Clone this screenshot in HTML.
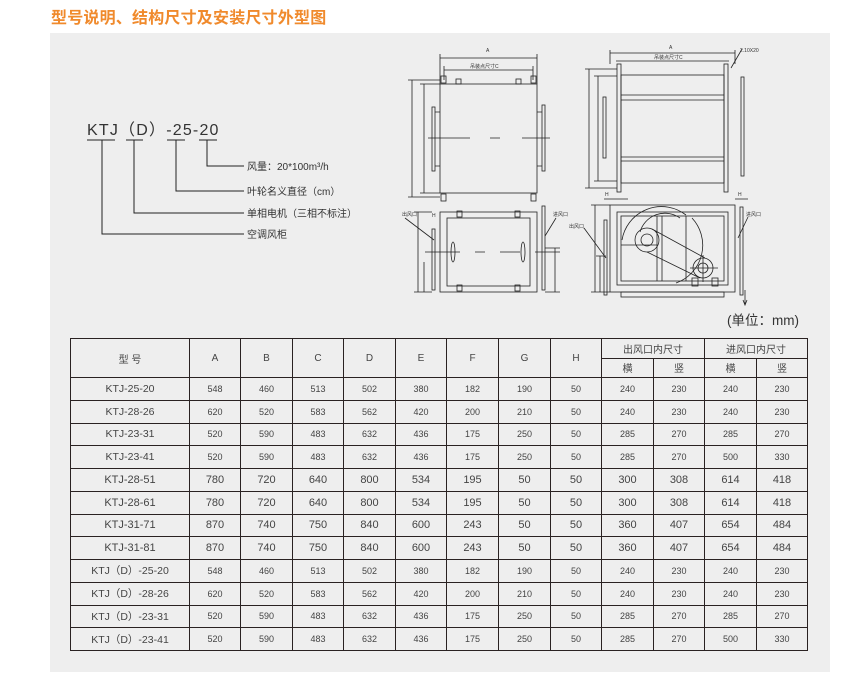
<!DOCTYPE html>
<html><head><meta charset="utf-8">
<style>
body{margin:0;width:850px;height:683px;background:#fff;position:relative;overflow:hidden;font-family:"Liberation Sans","Noto Sans CJK SC",sans-serif;color:#333}
.title{position:absolute;left:51px;top:4px;font-size:16px;font-weight:bold;color:#f08a2c;font-family:"Noto Sans CJK SC",sans-serif;letter-spacing:0.2px}
.panel{position:absolute;left:50px;top:33px;width:780px;height:639px;background:#eeeeee}
table{position:absolute;left:70px;top:338px;border-collapse:collapse;table-layout:fixed}
td{border:1px solid #2a2222;text-align:center;padding:0;font-size:9px;height:21.75px;color:#444;white-space:nowrap}
tr.h td{height:18.5px;font-size:10px}
td.m{font-size:10.5px}
tr.b td{font-size:11px}
.hd{font-size:11px}
svg{position:absolute;left:0;top:0}
</style></head><body>
<div class="title">型号说明、结构尺寸及安装尺寸外型图</div>
<div class="panel"></div>
<svg width="850" height="683" viewBox="0 0 850 683" font-family="Liberation Sans,Noto Sans CJK SC,sans-serif">
<g fill="#333">
<text x="87" y="135" font-size="16" letter-spacing="1.2">KTJ（D）-25-20</text>
<text x="247" y="170" font-size="10">风量：20*100m³/h</text>
<text x="247" y="195" font-size="10">叶轮名义直径（cm）</text>
<text x="247" y="217" font-size="10">单相电机（三相不标注）</text>
<text x="247" y="238" font-size="10">空调风柜</text>
<text x="727" y="325" font-size="13.5">(单位：mm)</text>
</g>
<g stroke="#222" stroke-width="1" fill="none">
<path d="M87 140H115M126 140H143M167 140H185M199 140H217"/>
<path d="M207 140V166H244M176 140V191H244M134 140V213H244M102 140V234H244"/>
</g>
<g stroke="#222" stroke-width="0.8" fill="none">
<rect x="440" y="84" width="97" height="109"/>
<path d="M440 58H537M440 54V84M537 54V84M444 70H533M444 66V80M533 66V80"/>
<path d="M412 80V197M408 80H440M408 197H440M424 84V193M420 84H440M420 193H440"/>
<rect x="432" y="107" width="3" height="64"/><path d="M435 112H440M435 166H440"/>
<rect x="542" y="105" width="3" height="66"/><path d="M537 112H542M537 166H542"/>
<path d="M428 138H470M490 138H500M522 138H550" />
<rect x="441" y="76" width="5" height="7"/><rect x="531" y="76" width="5" height="7"/>
<rect x="441" y="194" width="5" height="7"/><rect x="531" y="194" width="5" height="7"/>
<rect x="456" y="79" width="5" height="5"/><rect x="516" y="79" width="5" height="5"/>
<rect x="440" y="212" width="97" height="80"/><rect x="447" y="218" width="83" height="68"/>
<rect x="432" y="229" width="3" height="61"/><rect x="542" y="206" width="3" height="84"/>
<path d="M425 252H460M475 252H485M500 252H520M535 252H560"/>
<ellipse cx="453" cy="252" rx="2" ry="10"/><ellipse cx="523" cy="252" rx="2" ry="10"/>
<rect x="457" y="211" width="5" height="6"/><rect x="515" y="211" width="5" height="6"/>
<rect x="457" y="285" width="5" height="6"/><rect x="515" y="285" width="5" height="6"/>
<path d="M418 212V292M414 212H432M414 292H432M424 262V292M555 248V292M545 248H560M545 292H560"/>
<path d="M405 218L434 240M556 218L545 236"/>
<path d="M610 53H735M610 50V64M735 50V64M616 61H729"/>
<rect x="617" y="64" width="4" height="128"/><rect x="724" y="64" width="4" height="128"/>
<rect x="621" y="75" width="103" height="108"/>
<path d="M621 95H724M621 100H724M621 157H724M621 161H724"/>
<rect x="603" y="97" width="3" height="61"/><rect x="741" y="77" width="3" height="99"/>
<path d="M589 69V188M585 69H617M585 188H617M598 76V181M594 76H617M594 181H617"/>
<path d="M731 68L742 49"/>
<rect x="610" y="205" width="125" height="87"/><rect x="617" y="212" width="111" height="73"/>
<rect x="621" y="216" width="103" height="65"/>
<path d="M657 216V281M662 216V281M686 216V281M621 245H657"/>
<path d="M622 240A40 40 0 0 1 686 215"/>
<path d="M640 232A26 26 0 0 1 680 218"/>
<path d="M692 218A40 40 0 0 1 676 283"/>
<circle cx="647" cy="240" r="12"/><circle cx="647" cy="240" r="6"/>
<circle cx="703" cy="268" r="10"/><circle cx="703" cy="268" r="5"/>
<path d="M652 229L705 258M647 252L700 278M690 268H718M703 255V282"/>
<rect x="692" y="278" width="6" height="8"/><rect x="712" y="278" width="6" height="8"/>
<rect x="621" y="292" width="103" height="5"/>
<rect x="604" y="220" width="3" height="75"/><rect x="740" y="207" width="3" height="88"/>
<path d="M595 205V292M591 205H610M591 292H610M600 256V292M596 256H606"/>
<path d="M604 199H628M735 199H748M745 290V305M743 300L745 305L747 300"/>
<path d="M584 228L606 258M748 217L738 238"/>
</g>
<g fill="#333" font-size="5">
<text x="486" y="52">A</text><text x="470" y="68">吊装点尺寸C</text>
<text x="669" y="49">A</text><text x="654" y="59">吊装点尺寸C</text>
<text x="740" y="52">2.10X20</text>
<text x="402" y="216">出风口</text><text x="553" y="216">进风口</text>
<text x="569" y="228">出风口</text><text x="746" y="216">进风口</text>
<text x="432" y="217">H</text><text x="605" y="196">H</text><text x="738" y="196">H</text>
</g>
</svg>
<table>
<colgroup><col style="width:119px"><col style="width:51px"><col style="width:52px"><col style="width:51px"><col style="width:52px"><col style="width:51px"><col style="width:52px"><col style="width:52px"><col style="width:51px"><col style="width:52px"><col style="width:51px"><col style="width:52px"><col style="width:51px"></colgroup>
<tr class="h"><td rowspan="2" class="hd">型 号</td><td rowspan="2" class="hd">A</td><td rowspan="2" class="hd">B</td><td rowspan="2" class="hd">C</td><td rowspan="2" class="hd">D</td><td rowspan="2" class="hd">E</td><td rowspan="2" class="hd">F</td><td rowspan="2" class="hd">G</td><td rowspan="2" class="hd">H</td><td colspan="2">出风口内尺寸</td><td colspan="2">进风口内尺寸</td></tr>
<tr class="h"><td>横</td><td>竖</td><td>横</td><td>竖</td></tr>
<tr><td class="m">KTJ-25-20</td><td>548</td><td>460</td><td>513</td><td>502</td><td>380</td><td>182</td><td>190</td><td>50</td><td>240</td><td>230</td><td>240</td><td>230</td></tr>
<tr><td class="m">KTJ-28-26</td><td>620</td><td>520</td><td>583</td><td>562</td><td>420</td><td>200</td><td>210</td><td>50</td><td>240</td><td>230</td><td>240</td><td>230</td></tr>
<tr><td class="m">KTJ-23-31</td><td>520</td><td>590</td><td>483</td><td>632</td><td>436</td><td>175</td><td>250</td><td>50</td><td>285</td><td>270</td><td>285</td><td>270</td></tr>
<tr><td class="m">KTJ-23-41</td><td>520</td><td>590</td><td>483</td><td>632</td><td>436</td><td>175</td><td>250</td><td>50</td><td>285</td><td>270</td><td>500</td><td>330</td></tr>
<tr class="b"><td class="m">KTJ-28-51</td><td>780</td><td>720</td><td>640</td><td>800</td><td>534</td><td>195</td><td>50</td><td>50</td><td>300</td><td>308</td><td>614</td><td>418</td></tr>
<tr class="b"><td class="m">KTJ-28-61</td><td>780</td><td>720</td><td>640</td><td>800</td><td>534</td><td>195</td><td>50</td><td>50</td><td>300</td><td>308</td><td>614</td><td>418</td></tr>
<tr class="b"><td class="m">KTJ-31-71</td><td>870</td><td>740</td><td>750</td><td>840</td><td>600</td><td>243</td><td>50</td><td>50</td><td>360</td><td>407</td><td>654</td><td>484</td></tr>
<tr class="b"><td class="m">KTJ-31-81</td><td>870</td><td>740</td><td>750</td><td>840</td><td>600</td><td>243</td><td>50</td><td>50</td><td>360</td><td>407</td><td>654</td><td>484</td></tr>
<tr><td class="m">KTJ（D）-25-20</td><td>548</td><td>460</td><td>513</td><td>502</td><td>380</td><td>182</td><td>190</td><td>50</td><td>240</td><td>230</td><td>240</td><td>230</td></tr>
<tr><td class="m">KTJ（D）-28-26</td><td>620</td><td>520</td><td>583</td><td>562</td><td>420</td><td>200</td><td>210</td><td>50</td><td>240</td><td>230</td><td>240</td><td>230</td></tr>
<tr><td class="m">KTJ（D）-23-31</td><td>520</td><td>590</td><td>483</td><td>632</td><td>436</td><td>175</td><td>250</td><td>50</td><td>285</td><td>270</td><td>285</td><td>270</td></tr>
<tr><td class="m">KTJ（D）-23-41</td><td>520</td><td>590</td><td>483</td><td>632</td><td>436</td><td>175</td><td>250</td><td>50</td><td>285</td><td>270</td><td>500</td><td>330</td></tr>
</table>
</body></html>
